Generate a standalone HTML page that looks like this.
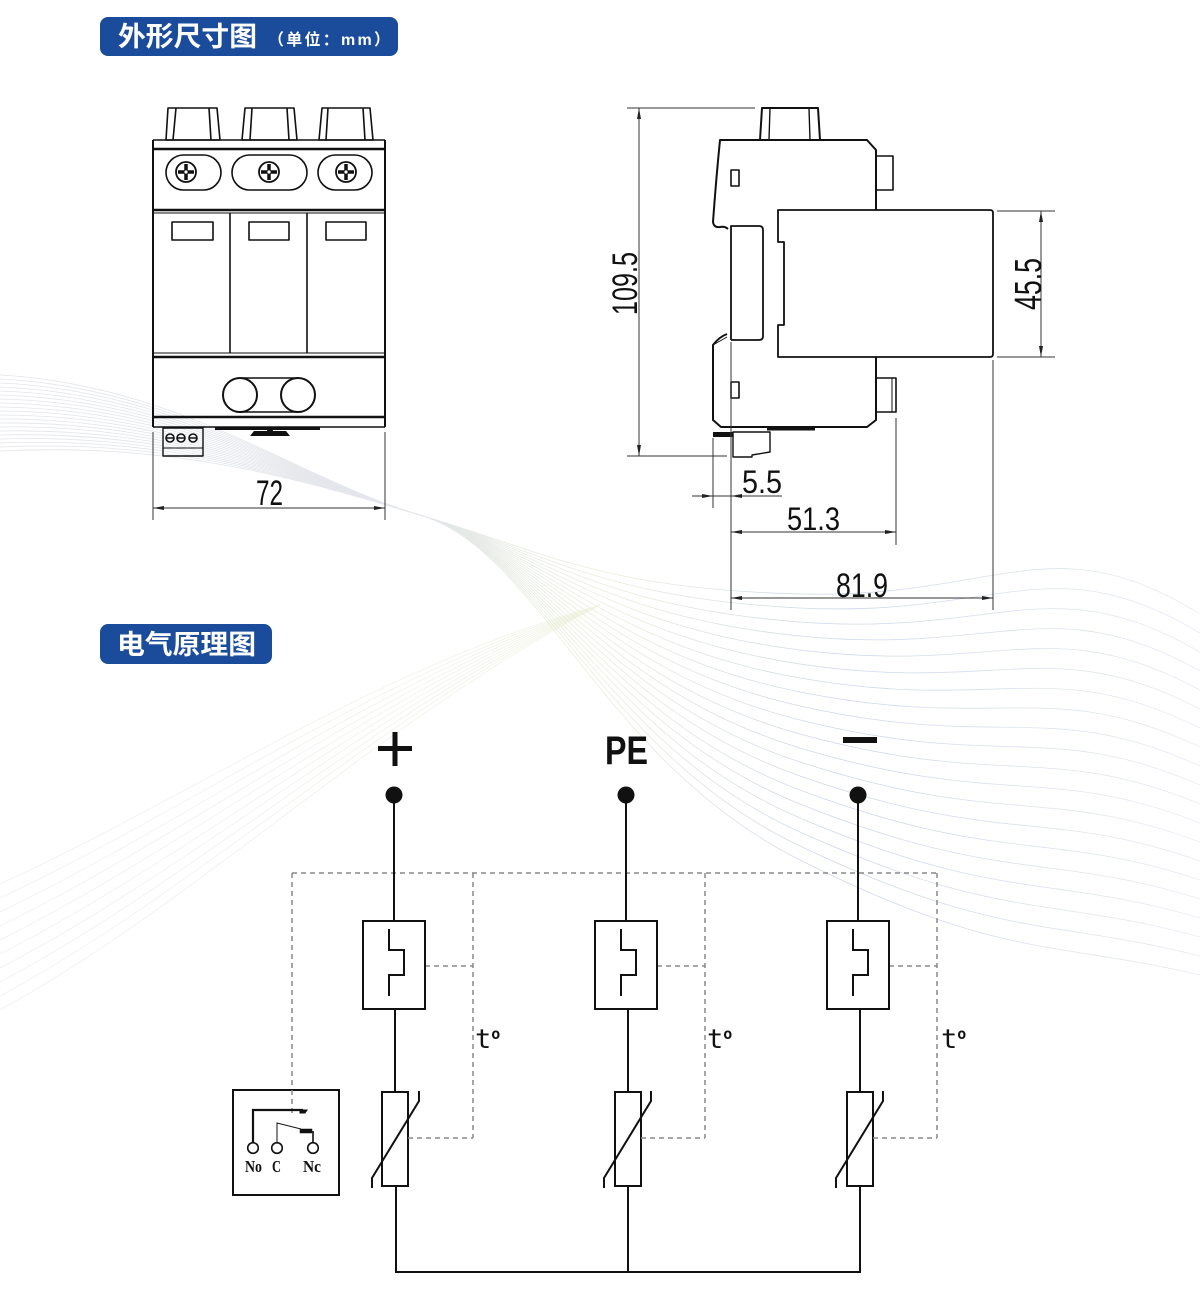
<!DOCTYPE html>
<html>
<head>
<meta charset="utf-8">
<style>
html,body{margin:0;padding:0;background:#fff;}
svg{display:block;}
.cjk{font-family:"Liberation Sans","Noto Sans CJK SC",sans-serif;font-weight:bold;fill:#fff;}
.dim{font-family:"Liberation Sans",sans-serif;fill:#111;}
</style>
</head>
<body>
<svg width="1200" height="1294" viewBox="0 0 1200 1294" xmlns="http://www.w3.org/2000/svg">
<defs>
<linearGradient id="gA" gradientUnits="userSpaceOnUse" x1="0" y1="0" x2="1200" y2="0">
<stop offset="0" stop-color="#d6d9df"/>
<stop offset="0.35" stop-color="#d9dde4"/>
<stop offset="0.5" stop-color="#e1e9c9"/>
<stop offset="0.7" stop-color="#b9c5e6"/>
<stop offset="1" stop-color="#dfe4ee"/>
</linearGradient>
<linearGradient id="gB" gradientUnits="userSpaceOnUse" x1="0" y1="0" x2="600" y2="0">
<stop offset="0" stop-color="#e4e6ea"/>
<stop offset="1" stop-color="#e8edd2"/>
</linearGradient>
</defs>
<rect width="1200" height="1294" fill="#fff"/>

<!-- background waves -->
<g fill="none" stroke="url(#gA)" stroke-width="0.8" opacity="0.7">
<path d="M0,375 C180,385 300,480 420,515 C540,550 600,760 800,860 S1050,940 1200,975"/>
<path d="M0,379 C180,388 300,480 420,515 C540,550 600,751 800,846 S1050,918 1200,956"/>
<path d="M0,383 C180,391 300,480 420,515 C540,550 600,742 800,832 S1050,896 1200,937"/>
<path d="M0,387 C180,394 300,480 420,515 C540,550 600,733 800,818 S1050,874 1200,918"/>
<path d="M0,391 C180,397 300,480 420,515 C540,550 600,724 800,804 S1050,852 1200,899"/>
<path d="M0,395 C180,400 300,480 420,515 C540,550 600,715 800,790 S1050,830 1200,880"/>
<path d="M0,399 C180,403 300,480 420,515 C540,550 600,706 800,776 S1050,808 1200,861"/>
<path d="M0,403 C180,406 300,480 420,515 C540,550 600,697 800,762 S1050,786 1200,842"/>
<path d="M0,407 C180,409 300,480 420,515 C540,550 600,688 800,748 S1050,764 1200,823"/>
<path d="M0,411 C180,412 300,480 420,515 C540,550 600,679 800,734 S1050,742 1200,804"/>
<path d="M0,415 C180,415 300,480 420,515 C540,550 600,670 800,720 S1050,720 1200,785"/>
<path d="M0,419 C180,418 300,480 420,515 C540,550 600,661 800,706 S1050,698 1200,766"/>
<path d="M0,423 C180,421 300,480 420,515 C540,550 600,652 800,692 S1050,676 1200,747"/>
<path d="M0,427 C180,424 300,480 420,515 C540,550 600,643 800,678 S1050,654 1200,728"/>
<path d="M0,431 C180,427 300,480 420,515 C540,550 600,634 800,664 S1050,632 1200,709"/>
<path d="M0,435 C180,430 300,480 420,515 C540,550 600,625 800,650 S1050,610 1200,690"/>
<path d="M0,439 C180,433 300,480 420,515 C540,550 600,616 800,636 S1050,588 1200,671"/>
<path d="M0,443 C180,436 300,480 420,515 C540,550 600,607 800,622 S1050,566 1200,652"/>
<path d="M0,447 C180,439 300,480 420,515 C540,550 600,598 800,608 S1050,544 1200,633"/>
<path d="M0,451 C180,442 300,480 420,515 C540,550 600,589 800,594 S1050,522 1200,614"/>
</g>
<g fill="none" stroke="url(#gB)" stroke-width="0.8" opacity="0.6">
<path d="M0,1010 C200,900 380,720 600,605"/>
<path d="M0,996 C200,888 380,714 600,605"/>
<path d="M0,982 C200,876 380,708 600,605"/>
<path d="M0,968 C200,864 380,702 600,605"/>
<path d="M0,954 C200,852 380,696 600,605"/>
<path d="M0,940 C200,840 380,690 600,605"/>
<path d="M0,926 C200,828 380,684 600,605"/>
<path d="M0,912 C200,816 380,678 600,605"/>
<path d="M0,898 C200,804 380,672 600,605"/>
<path d="M0,884 C200,792 380,666 600,605"/>
</g>

<!-- headers -->
<rect x="100" y="17" width="298" height="39" rx="8" fill="#1b4c9c"/>
<text class="cjk" x="118" y="46" font-size="27" textLength="139" lengthAdjust="spacingAndGlyphs">外形尺寸图</text>
<text class="cjk" x="268" y="45" font-size="16" textLength="122" lengthAdjust="spacing">（单位：mm）</text>

<rect x="100" y="624" width="172" height="40" rx="8" fill="#1b4c9c"/>
<text class="cjk" x="117" y="654" font-size="27" textLength="139" lengthAdjust="spacingAndGlyphs">电气原理图</text>

<!-- ============ FRONT VIEW ============ -->
<g fill="none" stroke="#111" stroke-width="1.6" stroke-linejoin="round">
<polygon points="166,140 168,108 217,108 220,140"/>
<line x1="173" y1="140" x2="176" y2="108"/><line x1="211" y1="140" x2="209" y2="108"/>
<polygon points="242,140 245,108 294,108 297,140"/>
<line x1="250" y1="140" x2="252" y2="108"/><line x1="289" y1="140" x2="287" y2="108"/>
<polygon points="319,140 322,108 370,108 373,140"/>
<line x1="326" y1="140" x2="328" y2="108"/><line x1="365" y1="140" x2="363" y2="108"/>
<line x1="153" y1="140" x2="153" y2="427" stroke-width="2"/>
<line x1="385" y1="140" x2="385" y2="427" stroke-width="2"/>
<line x1="153" y1="140" x2="385" y2="140"/>
<line x1="153" y1="149" x2="385" y2="149" stroke-width="2.6"/>
<line x1="153" y1="210" x2="385" y2="210" stroke-width="2.6"/>
<line x1="153" y1="213" x2="385" y2="213" stroke-width="1"/>
<rect x="166" y="155" width="55" height="35" rx="17.5"/>
<rect x="232" y="155" width="75" height="35" rx="17.5"/>
<rect x="318" y="155" width="54" height="35" rx="17.5"/>
<line x1="230" y1="213" x2="230" y2="353"/>
<line x1="307" y1="213" x2="307" y2="353"/>
<rect x="172" y="222" width="41" height="18"/>
<rect x="249" y="222" width="40" height="18"/>
<rect x="326" y="222" width="40" height="18"/>
<line x1="153" y1="353" x2="385" y2="353" stroke-width="1"/>
<line x1="153" y1="357" x2="385" y2="357" stroke-width="2.6"/>
<line x1="153" y1="417" x2="385" y2="417" stroke-width="2.6"/>
<line x1="153" y1="427" x2="385" y2="427" stroke-width="1.4"/>
<circle cx="240" cy="395" r="17" stroke-width="2"/>
<circle cx="298" cy="395" r="17" stroke-width="2"/>
<line x1="240" y1="378" x2="298" y2="378"/>
<line x1="240" y1="412" x2="298" y2="412"/>
<rect x="163" y="428" width="40" height="28" stroke-width="1.4"/>
<line x1="163" y1="448" x2="203" y2="448" stroke-width="1"/>
<circle cx="170" cy="438" r="4" stroke-width="1.6"/>
<circle cx="181" cy="438" r="4" stroke-width="1.6"/>
<circle cx="193" cy="438" r="4" stroke-width="1.6"/>
</g>
<g fill="#111">
<rect x="215" y="427" width="105" height="3"/>
<path d="M250,436 L254,431 L286,431 L290,436 Z"/>
<circle cx="270" cy="431" r="3"/>
<line x1="166" y1="438" x2="174" y2="438" stroke="#111" stroke-width="1.5"/>
<line x1="177" y1="438" x2="185" y2="438" stroke="#111" stroke-width="1.5"/>
<line x1="189" y1="438" x2="197" y2="438" stroke="#111" stroke-width="1.5"/>
</g>
<g stroke="#111" fill="none">
<circle cx="186" cy="172" r="10" stroke-width="1.8"/>
<circle cx="269" cy="172" r="10" stroke-width="1.8"/>
<circle cx="346" cy="172" r="10" stroke-width="1.8"/>
<g stroke-width="3.5">
<line x1="178" y1="172" x2="194" y2="172"/><line x1="186" y1="164" x2="186" y2="180"/>
<line x1="261" y1="172" x2="277" y2="172"/><line x1="269" y1="164" x2="269" y2="180"/>
<line x1="338" y1="172" x2="354" y2="172"/><line x1="346" y1="164" x2="346" y2="180"/>
</g>
</g>
<g fill="#fff">
<circle cx="186" cy="172" r="1.6"/><circle cx="269" cy="172" r="1.6"/><circle cx="346" cy="172" r="1.6"/>
</g>
<g stroke="#333" stroke-width="1" fill="none">
<line x1="153" y1="432" x2="153" y2="520"/>
<line x1="385" y1="432" x2="385" y2="520"/>
<line x1="153" y1="508" x2="385" y2="508"/>
</g>
<g fill="#222">
<polygon points="153,508 164,506 164,510"/>
<polygon points="385,508 374,506 374,510"/>
</g>
<text class="dim" x="256" y="505" font-size="35" textLength="27" lengthAdjust="spacingAndGlyphs">72</text>

<!-- ============ SIDE VIEW ============ -->
<g fill="none" stroke="#111" stroke-width="2" stroke-linejoin="round">
<polygon points="760,140 762,108 818,108 820,140"/>
<line x1="769" y1="140" x2="770" y2="108" stroke-width="1.4"/>
<line x1="810" y1="140" x2="809" y2="108" stroke-width="1.4"/>
<path d="M876,210 L876,150 L867,140 L720,140 Q716,180 713,222 Q714,228 720,227 Q725,226 728,229"/>
<path d="M731,340 L731,226 L759,226 Q763,226 763,230 L763,336 Q763,340 759,340 L731,340" stroke-width="1.8"/>
<rect x="731" y="170" width="8" height="16" stroke-width="1.6"/>
<rect x="876" y="156" width="17" height="34" stroke-width="1.6"/>
<path d="M778,210 L990,210 Q993,210 993,213 L993,354 Q993,357 990,357 L778,357 L778,325 L784,325 L784,242 L778,242 Z" stroke-width="1.8"/>
<path d="M727,334 Q719,337 713,345 L713,420 L721,427 L867,427 L876,420 L876,357"/>
<path d="M713,345 L727,337" stroke-width="1"/>
<rect x="731" y="382" width="8" height="16" stroke-width="1.6"/>
<rect x="876" y="378" width="20" height="34" stroke-width="1.6"/>
<line x1="892" y1="378" x2="892" y2="412" stroke-width="1"/>
<path d="M733,432 L770,432 L770,452 L752,455 L752,457 L733,457 Z" stroke-width="1.4"/>
</g>
<g fill="#111">
<rect x="767" y="427" width="48" height="3.5"/>
<rect x="713" y="432" width="20" height="5"/>
</g>
<g stroke="#333" stroke-width="1" fill="none">
<line x1="627" y1="108" x2="755" y2="108"/>
<line x1="627" y1="456" x2="727" y2="456"/>
<line x1="639" y1="108" x2="639" y2="456"/>
<line x1="997" y1="211" x2="1055" y2="211"/>
<line x1="997" y1="357" x2="1055" y2="357"/>
<line x1="1041" y1="211" x2="1041" y2="357"/>
<line x1="713" y1="438" x2="713" y2="508"/>
<line x1="731" y1="342" x2="731" y2="610"/>
<line x1="896" y1="418" x2="896" y2="545"/>
<line x1="993" y1="360" x2="993" y2="610"/>
<line x1="692" y1="496" x2="782" y2="496"/>
<line x1="731" y1="532" x2="896" y2="532"/>
<line x1="731" y1="598" x2="993" y2="598"/>
</g>
<g fill="#222">
<polygon points="639,108 637,119 641,119"/>
<polygon points="639,456 637,445 641,445"/>
<polygon points="1041,211 1039,222 1043,222"/>
<polygon points="1041,357 1039,346 1043,346"/>
<polygon points="713,496 702,494 702,498"/>
<polygon points="731,496 742,494 742,498"/>
<polygon points="731,532 742,530 742,534"/>
<polygon points="896,532 885,530 885,534"/>
<polygon points="731,598 742,596 742,600"/>
<polygon points="993,598 982,596 982,600"/>
</g>
<text class="dim" font-size="35" textLength="63" lengthAdjust="spacingAndGlyphs" transform="translate(637,315) rotate(-90)" x="0" y="0">109.5</text>
<text class="dim" font-size="38" textLength="52" lengthAdjust="spacingAndGlyphs" transform="translate(1041,310) rotate(-90)" x="0" y="0">45.5</text>
<text class="dim" x="742" y="493" font-size="32" textLength="40" lengthAdjust="spacingAndGlyphs">5.5</text>
<text class="dim" x="787" y="530" font-size="32" textLength="53" lengthAdjust="spacingAndGlyphs">51.3</text>
<text class="dim" x="836" y="597" font-size="34" textLength="52" lengthAdjust="spacingAndGlyphs">81.9</text>

<!-- ============ CIRCUIT ============ -->
<rect x="378" y="746" width="34" height="5" fill="#111"/>
<rect x="392.5" y="732" width="5" height="34" fill="#111"/>
<text x="605" y="764" font-family="Liberation Sans, sans-serif" font-weight="bold" font-size="40" textLength="43" lengthAdjust="spacingAndGlyphs" fill="#111">PE</text>
<rect x="843" y="737" width="34" height="6" fill="#111"/>

<g stroke="#888" stroke-width="1.5" fill="none" stroke-dasharray="5,4">
<line x1="292" y1="873" x2="937" y2="873"/>
<line x1="292" y1="873" x2="292" y2="1117"/>
<line x1="473" y1="873" x2="473" y2="1138"/>
<line x1="705" y1="873" x2="705" y2="1138"/>
<line x1="937" y1="873" x2="937" y2="1138"/>
<line x1="425" y1="966" x2="473" y2="966"/>
<line x1="657" y1="966" x2="705" y2="966"/>
<line x1="889" y1="966" x2="937" y2="966"/>
</g>

<g stroke="#111" stroke-width="2" fill="none">
<line x1="394" y1="795" x2="394" y2="921"/>
<rect x="363" y="921" width="62" height="88" fill="#fff"/>
<polyline points="389,929 389,950 404,950 404,975 389,975 389,996"/>
<line x1="395" y1="1009" x2="395" y2="1092"/>
<rect x="382" y="1092" width="26" height="94" fill="#fff"/>
<line x1="396" y1="1186" x2="396" y2="1272"/>
<line x1="626" y1="795" x2="626" y2="921"/>
<rect x="595" y="921" width="62" height="88" fill="#fff"/>
<polyline points="621,929 621,950 636,950 636,975 621,975 621,996"/>
<line x1="628" y1="1009" x2="628" y2="1092"/>
<rect x="615" y="1092" width="26" height="94" fill="#fff"/>
<line x1="628" y1="1186" x2="628" y2="1272"/>
<line x1="858" y1="795" x2="858" y2="921"/>
<rect x="827" y="921" width="62" height="88" fill="#fff"/>
<polyline points="853,929 853,950 868,950 868,975 853,975 853,996"/>
<line x1="860" y1="1009" x2="860" y2="1092"/>
<rect x="847" y="1092" width="26" height="94" fill="#fff"/>
<line x1="860" y1="1186" x2="860" y2="1272"/>
<line x1="395" y1="1272" x2="861" y2="1272"/>
</g>
<g stroke="#888" stroke-width="1.5" fill="none" stroke-dasharray="5,4">
<line x1="408" y1="1138" x2="473" y2="1138"/>
<line x1="641" y1="1138" x2="705" y2="1138"/>
<line x1="873" y1="1138" x2="937" y2="1138"/>
</g>
<g stroke="#111" stroke-width="2" fill="none">
<polyline points="372,1188 372,1178 419,1101 419,1091"/>
<polyline points="604,1188 604,1178 651,1101 651,1091"/>
<polyline points="836,1188 836,1178 883,1101 883,1091"/>
</g>
<g fill="#111">
<circle cx="394" cy="795" r="8.5"/>
<circle cx="626" cy="795" r="8.5"/>
<circle cx="858" cy="795" r="8.5"/>
</g>
<g font-family="DejaVu Sans Mono, Liberation Mono, monospace" fill="#111">
<text x="475" y="1048" font-size="27">t<tspan dy="-9" font-size="15" font-weight="bold">o</tspan></text>
<text x="707" y="1048" font-size="27">t<tspan dy="-9" font-size="15" font-weight="bold">o</tspan></text>
<text x="941" y="1048" font-size="27">t<tspan dy="-9" font-size="15" font-weight="bold">o</tspan></text>
</g>

<rect x="233" y="1090" width="106" height="105" fill="#fff" stroke="#111" stroke-width="2"/>
<line x1="292" y1="1090" x2="292" y2="1117" stroke="#888" stroke-width="1.5" stroke-dasharray="5,4"/>
<g stroke="#111" fill="none">
<polyline points="253,1143 253,1110 303,1110" stroke-width="2.2"/>
<path d="M300,1110 L307,1110 L305,1113 L300,1113 Z" fill="#111" stroke-width="1"/>
<polyline points="277,1143 277,1123 301,1129" stroke-width="1"/>
<rect x="300" y="1129" width="12" height="4" fill="#111" stroke-width="0.5"/>
<line x1="313" y1="1131" x2="313" y2="1143" stroke-width="1.6"/>
<circle cx="253" cy="1148" r="5.3" stroke-width="1.6" fill="#fff"/>
<circle cx="277" cy="1148" r="5.3" stroke-width="1.6" fill="#fff"/>
<circle cx="313" cy="1148" r="5.3" stroke-width="1.6" fill="#fff"/>
</g>
<g font-family="Liberation Serif, serif" font-size="17" fill="#111" font-weight="bold">
<text x="245" y="1172" textLength="17" lengthAdjust="spacingAndGlyphs">No</text>
<text x="272" y="1172" textLength="9" lengthAdjust="spacingAndGlyphs">C</text>
<text x="303" y="1172" textLength="18" lengthAdjust="spacingAndGlyphs">Nc</text>
</g>
</svg>
</body>
</html>
